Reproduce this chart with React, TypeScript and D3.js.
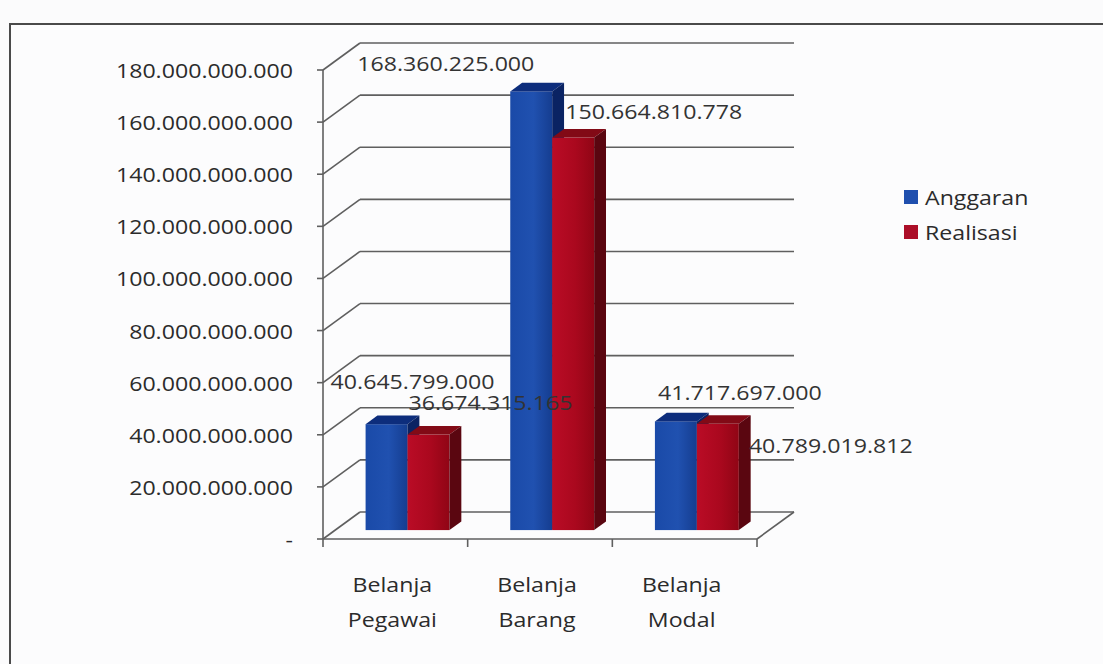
import React from 'react';
import * as d3 from 'd3';

const categories = ['Belanja Pegawai', 'Belanja Barang', 'Belanja Modal'];
const categoryLines = [['Belanja', 'Pegawai'], ['Belanja', 'Barang'], ['Belanja', 'Modal']];
const seriesNames = ['Anggaran', 'Realisasi'];
const anggaran = [40645799000, 168360225000, 41717697000];
const realisasi = [36674315165, 150664810778, 40789019812];
const tickValues = [0, 20e9, 40e9, 60e9, 80e9, 100e9, 120e9, 140e9, 160e9, 180e9];
// label offsets (dx, dy) from each bar's front top-left corner, per category and series
const labelOffsets = [
  [[-35, -43], [1, -32]],
  [[-153, -28], [13, -26]],
  [[3, -29], [52, 21]],
];

const locale = d3.formatLocale({ decimal: ',', thousands: '.', grouping: [3], currency: ['', ''] });
const fmt = locale.format(',d');
const fmtTick = (v: number) => (v === 0 ? '-' : fmt(v));

const FONT = '"Open Sans", sans-serif';
const FS = 20.5;
const SX = 1.13;

const seriesColors = [
  { front: ['#1a4aa8', '#2051b0', '#153d90'], top: '#0d2d7c', side: '#0a2363', legend: '#1f4fae' },
  { front: ['#ba0c26', '#aa081e', '#900515'], top: '#820a16', side: '#5a0610', legend: '#ac0e28' },
];

function T({ x, y, anchor = 'start', children, fill = '#2b2b2b' }: any) {
  return (
    <text
      transform={`translate(${x},${y}) scale(${SX},1)`}
      textAnchor={anchor}
      dominantBaseline="central"
      fontFamily={FONT}
      fontSize={FS}
      fill={fill}
    >
      {children}
    </text>
  );
}

export default function App() {
  const W = 1103, H = 664;
  const x0 = 323, x1 = 757;
  const floorY = 539, topY = 70;
  const DX = 37, DY = -27;
  const backRight = x1 + DX;
  const f1 = 0.33, f2 = 0.65;

  const y = d3.scaleLinear().domain([0, 180e9]).range([floorY, topY]);
  const xb = d3.scaleBand<string>().domain(categories).range([x0, x1]).padding(0);
  const bw = xb.bandwidth();
  const xs = d3.scaleBand<string>().domain(seriesNames).range([bw * 0.21, bw * 0.79]).padding(0);
  const w = xs.bandwidth();
  const values = [anggaran, realisasi];

  const ox = f1 * DX, oy = f1 * DY;
  const ddx = (f2 - f1) * DX, ddy = (f2 - f1) * DY;

  const grid = tickValues.map((t) => {
    const yy = y(t);
    return (
      <g key={t}>
        <line x1={x0 - 6} y1={yy} x2={x0} y2={yy} />
        <line x1={x0} y1={yy} x2={x0 + DX} y2={yy + DY} />
        <line x1={x0 + DX} y1={yy + DY} x2={backRight} y2={yy + DY} />
      </g>
    );
  });

  const bars: any[] = [];
  const labels: any[] = [];
  categories.forEach((c, ci) => {
    seriesNames.forEach((s, si) => {
      const v = values[si][ci];
      const bx = (xb(c) as number) + (xs(s) as number) + ox;
      const yb = floorY + oy;
      const yt = y(v) + oy;
      const col = seriesColors[si];
      bars.push(
        <g key={c + s}>
          <rect x={bx} y={yt} width={w} height={yb - yt} fill={`url(#grad${si})`} />
          <polygon
            points={`${bx},${yt} ${bx + w},${yt} ${bx + w + ddx},${yt + ddy} ${bx + ddx},${yt + ddy}`}
            fill={col.top}
          />
          <polygon
            points={`${bx + w},${yt} ${bx + w + ddx},${yt + ddy} ${bx + w + ddx},${yb + ddy} ${bx + w},${yb}`}
            fill={col.side}
          />
        </g>
      );
      const [ldx, ldy] = labelOffsets[ci][si];
      labels.push(
        <T key={'l' + c + s} x={bx + ldx} y={yt + ldy} fill="#333">
          {fmt(v)}
        </T>
      );
    });
  });

  return (
    <svg width={W} height={H} style={{ position: 'absolute', left: 0, top: 0, background: '#fbfbfc' }}>
      <defs>
        {seriesColors.map((c, i) => (
          <linearGradient key={i} id={`grad${i}`} x1="0" x2="1" y1="0" y2="0">
            <stop offset="0" stopColor={c.front[0]} />
            <stop offset="0.55" stopColor={c.front[1]} />
            <stop offset="1" stopColor={c.front[2]} />
          </linearGradient>
        ))}
      </defs>
      <rect x={10} y={24} width={W + 20} height={H + 20} fill="#fcfcfd" stroke="#4a4a4a" strokeWidth={2} />
      <g stroke="#5f5f5f" strokeWidth={1.6} fill="none">
        {grid}
        <line x1={x0} y1={topY} x2={x0} y2={floorY} />
        <line x1={x0} y1={floorY} x2={x1} y2={floorY} />
        <line x1={x1} y1={floorY} x2={backRight} y2={floorY + DY} />
        {[0, 1, 2, 3].map((i) => (
          <line key={i} x1={x0 + i * bw} y1={floorY} x2={x0 + i * bw} y2={floorY + 8} />
        ))}
      </g>
      {tickValues.map((t) => (
        <T key={'t' + t} x={293} y={y(t)} anchor="end">
          {fmtTick(t)}
        </T>
      ))}
      {categories.map((c, ci) => {
        const cx = (xb(c) as number) + bw / 2 - 3;
        return (
          <g key={'c' + c}>
            {categoryLines[ci].map((ln, li) => (
              <T key={li} x={cx} y={584 + li * 35} anchor="middle">
                {ln}
              </T>
            ))}
          </g>
        );
      })}
      {bars}
      {labels}
      {seriesNames.map((s, si) => (
        <g key={'lg' + s}>
          <rect x={904} y={190 + si * 35} width={14} height={14} fill={seriesColors[si].legend} />
          <T x={925} y={197 + si * 35}>
            {s}
          </T>
        </g>
      ))}
    </svg>
  );
}
